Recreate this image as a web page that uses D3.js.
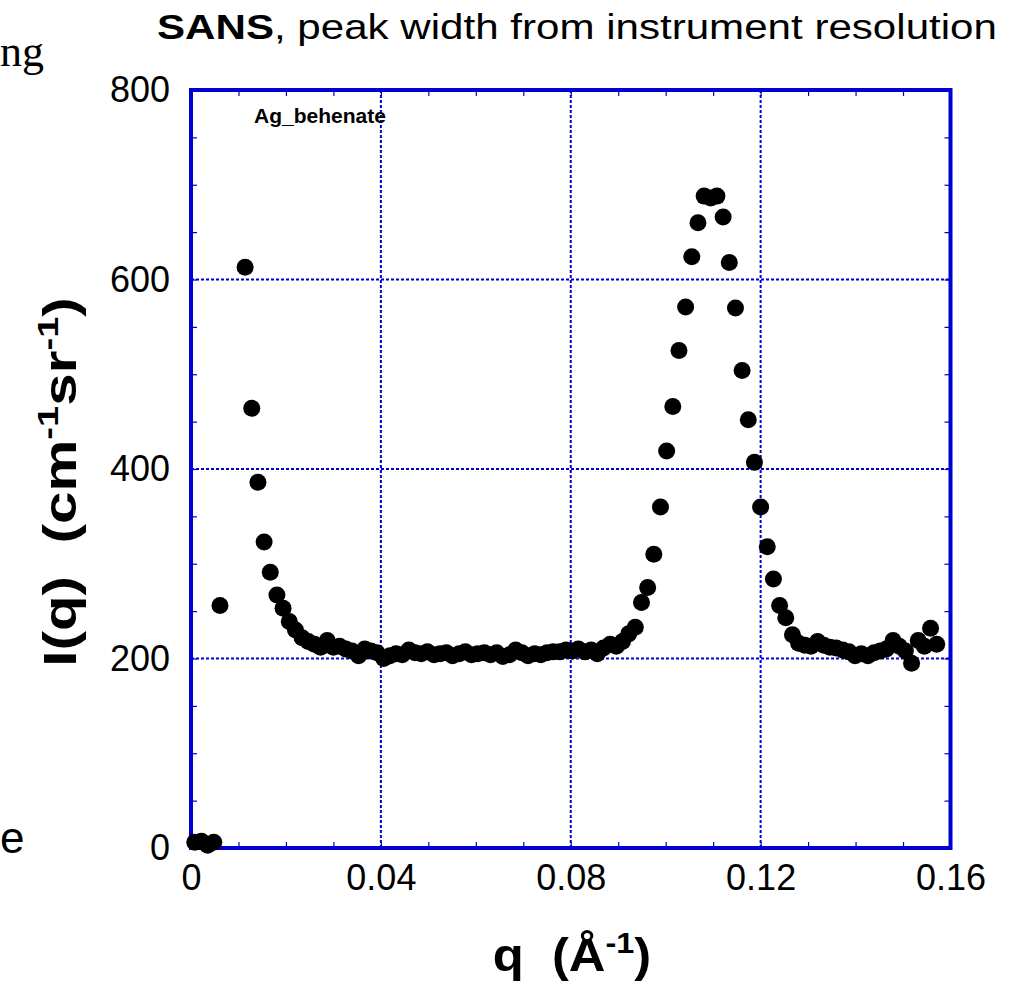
<!DOCTYPE html>
<html>
  <head>
    <meta charset="utf-8" />
    <title>SANS peak width</title>
    <script src="https://d3js.org/d3.v7.min.js"></script>
    <style>
      body {
        margin: 0;
        background: #fff;
      }
      text {
        white-space: pre;
      }
    </style>
  </head>
  <body>
    <svg id="chart">
      <g id="grid"></g>
      <g id="ticks"></g>
      <g id="points"></g>
      <g id="labels"></g>
    </svg>

    <script>

      // q in 1/Angstrom
      var qValues = [
        0.0008, 0.0022, 0.0035, 0.0048, 0.0061,
        0.0114, 0.0128, 0.0141, 0.0154, 0.0167, 0.0181, 0.0194, 0.0207, 0.0220, 0.0234,
        0.0247, 0.0260, 0.0273, 0.0287, 0.0300, 0.0313, 0.0326, 0.0339, 0.0353, 0.0366,
        0.0379, 0.0392, 0.0406, 0.0419, 0.0432, 0.0445, 0.0459, 0.0472, 0.0485, 0.0498,
        0.0512, 0.0525, 0.0538, 0.0551, 0.0565, 0.0578, 0.0591, 0.0604, 0.0618, 0.0631,
        0.0644, 0.0657, 0.0671, 0.0684, 0.0697, 0.0710, 0.0724, 0.0737, 0.0750, 0.0763,
        0.0777, 0.0790, 0.0803, 0.0816, 0.0830, 0.0843, 0.0856, 0.0869, 0.0883, 0.0896,
        0.0909, 0.0922, 0.0936, 0.0949, 0.0962, 0.0975, 0.0989, 0.1002, 0.1015, 0.1028,
        0.1042, 0.1055, 0.1068, 0.1081, 0.1095, 0.1108, 0.1121, 0.1134, 0.1147, 0.1161,
        0.1174, 0.1187, 0.1200, 0.1214, 0.1227, 0.1240, 0.1253, 0.1267, 0.1280, 0.1293,
        0.1306, 0.1320, 0.1333, 0.1346, 0.1359, 0.1373, 0.1386, 0.1399, 0.1412, 0.1426,
        0.1439, 0.1452, 0.1465, 0.1479, 0.1492, 0.1505, 0.1518, 0.1532, 0.1545, 0.1558,
        0.1571
      ];

      // I(q) in 1/(cm sr)
      var intensity = [
        6, 7, 3, 6, 256,
        613, 464, 386, 323, 291, 267, 253, 239, 230, 222,
        218, 215, 212, 219, 212, 213, 210, 208, 203, 210,
        208, 206, 200, 203, 205, 204, 209, 206, 205, 207,
        204, 205, 206, 203, 205, 207, 204, 205, 206, 204,
        206, 202, 204, 209, 206, 203, 205, 204, 206, 207,
        207, 209, 208, 210, 207, 209, 205, 211, 215, 213,
        218, 226, 233, 259, 275, 310, 360, 419, 466, 525,
        571, 624, 660, 688, 686, 688, 666, 618, 570, 504,
        452, 407, 360, 318, 284, 256, 243, 225, 216, 214,
        213, 218, 214, 212, 211, 209, 207, 203, 205, 203,
        206, 208, 210, 219, 213, 208, 195, 219, 213, 232,
        215
      ];

      var xTicks = [0, 0.04, 0.08, 0.12, 0.16];
      var xTickLabels = ["0", "0.04", "0.08", "0.12", "0.16"];
      var yTicks = [0, 200, 400, 600, 800];
      var yTickLabels = ["0", "200", "400", "600", "800"];
      var xMinor = d3.range(0, 0.1601, 0.01);
      var yMinor = d3.range(0, 801, 50);

      var sampleName = "Ag_behenate";

      var width = 1010;
      var height = 983;
      var blue = "#0000d2";
      var font = "Liberation Sans, Arial, Helvetica, sans-serif";

      var svg = d3.select("#chart")
        .attr("width", width)
        .attr("height", height);

      var x = d3.scaleLinear()
        .domain([0, 0.16])
        .range([191, 950.5]);

      var y = d3.scaleLinear()
        .domain([0, 800])
        .range([848, 90]);

      var data = qValues.map(function(q, i) {
        return { q: q, I: intensity[i] };
      });

      // dotted grid on the major ticks
      var grid = svg.select("#grid");
      grid.selectAll(".vgrid")
        .data(xTicks.slice(1, -1))
        .enter().append("line")
        .attr("class", "vgrid")
        .attr("x1", function(d) { return x(d); })
        .attr("x2", function(d) { return x(d); })
        .attr("y1", y(800))
        .attr("y2", y(0))
        .attr("stroke", blue)
        .attr("stroke-width", 2)
        .attr("stroke-dasharray", "3,2");

      grid.selectAll(".hgrid")
        .data(yTicks.slice(1, -1))
        .enter().append("line")
        .attr("class", "hgrid")
        .attr("x1", x(0))
        .attr("x2", x(0.16))
        .attr("y1", function(d) { return y(d); })
        .attr("y2", function(d) { return y(d); })
        .attr("stroke", blue)
        .attr("stroke-width", 2)
        .attr("stroke-dasharray", "3,2");

      // inward ticks on all four sides, made with d3 axes
      var tickLen = 6;
      var ticks = svg.select("#ticks");

      function cleanAxis(g) {
        g.select(".domain").remove();
        g.selectAll("text").remove();
        g.selectAll("line").attr("stroke", blue).attr("stroke-width", 1.2);
      }

      ticks.append("g")
        .attr("transform", "translate(0," + y(0) + ")")
        .call(d3.axisTop(x).tickValues(xMinor).tickSize(tickLen))
        .call(cleanAxis);
      ticks.append("g")
        .attr("transform", "translate(0," + y(800) + ")")
        .call(d3.axisBottom(x).tickValues(xMinor).tickSize(tickLen))
        .call(cleanAxis);
      ticks.append("g")
        .attr("transform", "translate(" + x(0) + ",0)")
        .call(d3.axisRight(y).tickValues(yMinor).tickSize(tickLen))
        .call(cleanAxis);
      ticks.append("g")
        .attr("transform", "translate(" + x(0.16) + ",0)")
        .call(d3.axisLeft(y).tickValues(yMinor).tickSize(tickLen))
        .call(cleanAxis);

      // frame
      ticks.append("rect")
        .attr("x", x(0))
        .attr("y", y(800))
        .attr("width", x(0.16) - x(0))
        .attr("height", y(0) - y(800))
        .attr("fill", "none")
        .attr("stroke", blue)
        .attr("stroke-width", 4);

      // tick labels
      var xLabelAxis = d3.axisBottom(x)
        .tickValues(xTicks)
        .tickSize(0)
        .tickPadding(0)
        .tickFormat(function(d, i) { return xTickLabels[i]; });
      var xl = svg.append("g")
        .attr("transform", "translate(0," + y(0) + ")")
        .call(xLabelAxis);
      xl.select(".domain").remove();
      xl.selectAll("text")
        .attr("y", 42)
        .attr("dy", null)
        .attr("fill", "#000")
        .attr("font-family", font)
        .attr("font-size", "36px");

      var yLabelAxis = d3.axisLeft(y)
        .tickValues(yTicks)
        .tickSize(0)
        .tickPadding(0)
        .tickFormat(function(d, i) { return yTickLabels[i]; });
      var yl = svg.append("g")
        .attr("transform", "translate(" + (x(0) - 21) + ",0)")
        .call(yLabelAxis);
      yl.select(".domain").remove();
      yl.selectAll("text")
        .attr("fill", "#000")
        .attr("font-family", font)
        .attr("font-size", "36px");

      // data points
      svg.select("#points").selectAll("circle")
        .data(data)
        .enter().append("circle")
        .attr("cx", function(d) { return x(d.q); })
        .attr("cy", function(d) { return y(d.I); })
        .attr("r", 8.5)
        .attr("fill", "#000");

      var labels = svg.select("#labels");

      // title (the original is a little wider than its height suggests)
      var title = labels.append("text")
        .attr("transform", "translate(157,39) scale(1.17,1)")
        .attr("font-family", font)
        .attr("font-size", "36px")
        .attr("fill", "#000");
      title.append("tspan").attr("font-weight", "bold").text("SANS");
      title.append("tspan").text(", peak width from instrument resolution");

      labels.append("text")
        .attr("x", 254)
        .attr("y", 123)
        .attr("font-family", font)
        .attr("font-size", "21px")
        .attr("font-weight", "bold")
        .attr("fill", "#000")
        .text(sampleName);

      // x axis title
      var xt = labels.append("text")
        .attr("transform", "translate(572,971) scale(1.08,1)")
        .attr("text-anchor", "middle")
        .attr("font-family", font)
        .attr("font-size", "47px")
        .attr("font-weight", "bold")
        .attr("fill", "#000");
      xt.append("tspan").text("q  (Å");
      xt.append("tspan").attr("dy", -18).attr("font-size", "30px").text("-1");
      xt.append("tspan").attr("dy", 18).text(")");

      // y axis title
      var yt = labels.append("text")
        .attr("transform", "translate(76,482) rotate(-90) scale(1.27,1)")
        .attr("text-anchor", "middle")
        .attr("font-family", font)
        .attr("font-size", "46px")
        .attr("font-weight", "bold")
        .attr("fill", "#000");
      yt.append("tspan").text("I(q)  (cm");
      yt.append("tspan").attr("dy", -18).attr("font-size", "30px").text("-1");
      yt.append("tspan").attr("dy", 18).text("sr");
      yt.append("tspan").attr("dy", -18).attr("font-size", "30px").text("-1");
      yt.append("tspan").attr("dy", 18).text(")");

      // bits of neighbouring text cut off at the left edge
      labels.append("text")
        .attr("x", 0)
        .attr("y", 66)
        .attr("font-family", "Liberation Serif, Times New Roman, serif")
        .attr("font-size", "44px")
        .attr("fill", "#000")
        .text("ng");

      labels.append("text")
        .attr("x", 0)
        .attr("y", 853)
        .attr("font-family", font)
        .attr("font-size", "44px")
        .attr("fill", "#000")
        .text("e");

    </script>
  </body>
</html>
